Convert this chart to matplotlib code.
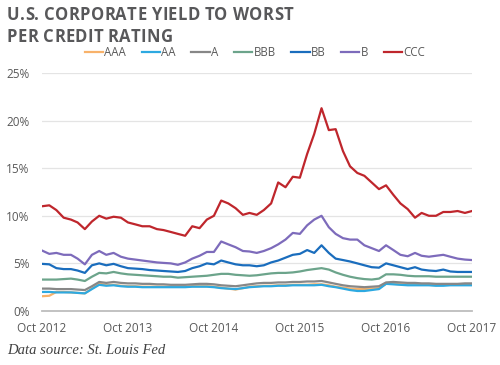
import pandas as pd
import matplotlib
matplotlib.use('Agg')
import matplotlib.pyplot as plt
import matplotlib.dates as mdates
from matplotlib.ticker import FuncFormatter

# monthly readings, Oct 2012 - Oct 2017 (yield to worst, %)
dates = pd.date_range('2012-10-01', periods=61, freq='MS')

aaa = [1.55, 1.6, 2.0, 2.0, 1.95, 1.9, 1.85, 2.35, 2.85, 2.75,
       2.75, 2.65, 2.6, 2.6, 2.55, 2.55, 2.55, 2.55, 2.55, 2.55,
       2.55, 2.6, 2.6, 2.6, 2.55, 2.45, 2.35, 2.25, 2.4, 2.55,
       2.6, 2.65, 2.65, 2.7, 2.7, 2.75, 2.75, 2.75, 2.8, 2.8,
       2.7, 2.55, 2.45, 2.35, 2.3, 2.3, 2.35, 2.4, 2.85, 2.85,
       2.8, 2.8, 2.75, 2.75, 2.75, 2.7, 2.75, 2.75, 2.75, 2.75, 2.75]
aa = [2.0, 2.0, 1.95, 1.95, 1.95, 1.9, 1.85, 2.3, 2.75, 2.65,
      2.7, 2.6, 2.55, 2.55, 2.5, 2.5, 2.5, 2.5, 2.5, 2.5,
      2.5, 2.55, 2.55, 2.55, 2.5, 2.4, 2.35, 2.3, 2.4, 2.5,
      2.55, 2.6, 2.6, 2.65, 2.65, 2.7, 2.7, 2.7, 2.7, 2.75,
      2.6, 2.5, 2.35, 2.2, 2.1, 2.1, 2.2, 2.3, 2.85, 2.8,
      2.75, 2.7, 2.7, 2.7, 2.7, 2.65, 2.65, 2.7, 2.7, 2.7, 2.7]
a = [2.35, 2.35, 2.3, 2.3, 2.3, 2.25, 2.2, 2.6, 3.05, 2.95,
     3.05, 2.95, 2.9, 2.9, 2.85, 2.85, 2.8, 2.8, 2.75, 2.75,
     2.75, 2.8, 2.85, 2.85, 2.8, 2.7, 2.65, 2.6, 2.7, 2.8,
     2.9, 2.95, 2.95, 3.0, 3.0, 3.05, 3.05, 3.1, 3.1, 3.15,
     3.0, 2.85, 2.7, 2.6, 2.55, 2.5, 2.55, 2.6, 3.0, 3.05,
     3.0, 2.95, 2.95, 2.9, 2.9, 2.85, 2.85, 2.85, 2.85, 2.9, 2.9]
bbb = [3.3, 3.3, 3.3, 3.35, 3.4, 3.3, 3.15, 3.6, 4.0, 3.95,
       4.1, 3.95, 3.85, 3.8, 3.75, 3.7, 3.65, 3.6, 3.6, 3.5,
       3.55, 3.6, 3.65, 3.7, 3.8, 3.9, 3.9, 3.8, 3.75, 3.7,
       3.75, 3.85, 3.95, 4.0, 4.0, 4.05, 4.15, 4.3, 4.4, 4.5,
       4.35, 4.05, 3.8, 3.6, 3.45, 3.35, 3.3, 3.4, 3.85, 3.85,
       3.8, 3.7, 3.65, 3.65, 3.65, 3.6, 3.6, 3.6, 3.6, 3.6, 3.6]
bb = [4.95, 4.9, 4.5, 4.4, 4.4, 4.25, 4.0, 4.8, 5.0, 4.8,
      4.95, 4.7, 4.5, 4.45, 4.4, 4.3, 4.25, 4.2, 4.15, 4.1,
      4.2, 4.5, 4.7, 5.0, 4.9, 5.3, 5.1, 4.9, 4.8, 4.8,
      4.7, 4.8, 5.1, 5.3, 5.6, 5.9, 6.0, 6.4, 6.1, 6.9,
      6.1, 5.5, 5.35, 5.2, 5.0, 4.8, 4.6, 4.55, 5.0, 4.8,
      4.6, 4.4, 4.6, 4.35, 4.25, 4.2, 4.35, 4.15, 4.1, 4.1, 4.1]
b = [6.35, 6.0, 6.1, 5.9, 5.9, 5.5, 4.9, 5.9, 6.3, 5.9,
     6.1, 5.7, 5.5, 5.4, 5.3, 5.2, 5.1, 5.05, 5.0, 4.85,
     5.1, 5.5, 5.8, 6.2, 6.2, 7.3, 7.0, 6.7, 6.3, 6.25,
     6.1, 6.3, 6.6, 7.0, 7.5, 8.2, 8.1, 9.0, 9.6, 10.0,
     8.8, 8.1, 7.65, 7.5, 7.5, 6.9, 6.6, 6.3, 6.9, 6.4,
     5.9, 5.75, 6.1, 5.8, 5.7, 5.8, 5.9, 5.7, 5.5, 5.4, 5.35]
ccc = [11.0, 11.1, 10.6, 9.8, 9.6, 9.3, 8.6, 9.4, 10.0, 9.7,
       9.9, 9.8, 9.3, 9.1, 8.9, 8.9, 8.6, 8.5, 8.3, 8.1,
       7.9, 8.9, 8.7, 9.6, 10.0, 11.6, 11.3, 10.8, 10.1, 10.3,
       10.1, 10.6, 11.3, 13.5, 13.0, 14.1, 14.0, 16.5, 18.6, 21.3,
       19.0, 19.1, 16.8, 15.2, 14.5, 14.2, 13.5, 12.8, 13.2, 12.2,
       11.3, 10.7, 9.8, 10.3, 10.0, 10.0, 10.4, 10.4, 10.5, 10.3, 10.5]

labels = ['AAA', 'AA', 'A', 'BBB', 'BB', 'B', 'CCC']
colors = ['#F8B26A', '#2DA9E1', '#878787', '#6CA48B', '#1A6DBD', '#7D6BBB', '#BF262C']
series = [aaa, aa, a, bbb, bb, b, ccc]
title_lines = ['U.S. CORPORATE YIELD TO WORST', 'PER CREDIT RATING']

plt.rcParams['font.family'] = ['Open Sans', 'DejaVu Sans']
text_gray = '#595959'


def tracked_text(fig, x, y, s, track, **kw):
    """draw s one letter at a time with extra spacing (px) between letters"""
    r = fig.canvas.get_renderer()

    def width(txt):
        t = fig.text(0, 0, txt, **kw)
        w = t.get_window_extent(r).width
        t.remove()
        return w

    space = width('N N') - width('NN')
    px = x * fig.bbox.width
    for ch in s:
        if ch == ' ':
            px += space + track
            continue
        t = fig.text(px / fig.bbox.width, y, ch, va='baseline', **kw)
        px += t.get_window_extent(r).width + track


fig = plt.figure(figsize=(5, 3.65), dpi=100)
ax = fig.add_axes([0.084, 0.148, 0.86, 0.652])

for vals, lab, col in zip(series, labels, colors):
    ax.plot(dates, vals, color=col, lw=1.6, label=lab, solid_joinstyle='round')

ax.set_ylim(0, 25)
ax.set_yticks([0, 5, 10, 15, 20, 25])
ax.yaxis.set_major_formatter(FuncFormatter(lambda v, p: f'{v:.0f}%'))
ax.set_xlim(dates[0], dates[-1])
ax.set_xticks(pd.date_range('2012-10-01', '2017-10-01', freq='12MS'))
ax.xaxis.set_major_formatter(mdates.DateFormatter('Oct %Y'))

ax.grid(axis='y', color='#E4E4E4', lw=0.9)
ax.set_axisbelow(True)
for side in ['top', 'right', 'left']:
    ax.spines[side].set_visible(False)
ax.spines['bottom'].set_color('#BDBDBD')
ax.spines['bottom'].set_linewidth(1.3)
ax.tick_params(axis='both', length=0, labelsize=8.5, colors=text_gray)
ax.tick_params(axis='y', pad=9)
ax.tick_params(axis='x', pad=8)

ax.legend(loc='center', bbox_to_anchor=(0.495, 1.087), ncol=7, frameon=False,
          fontsize=8.3, handlelength=1.6, handletextpad=0.1, columnspacing=1.35,
          labelcolor=text_gray)

title_kw = dict(ha='left', fontsize=12, fontweight='bold', color='#58585A')
tracked_text(fig, 0.014, 1 - 19.5 / 365, title_lines[0], 0.3, **title_kw)
tracked_text(fig, 0.014, 1 - 42 / 365, title_lines[1], 0.3, **title_kw)

fig.text(0.014, 0.04, 'Data source: St. Louis Fed', ha='left', va='center',
         fontsize=10.5, style='italic', family='Liberation Serif', color='#404040')

fig.savefig('out.png', dpi=100)
plt.close(fig)
